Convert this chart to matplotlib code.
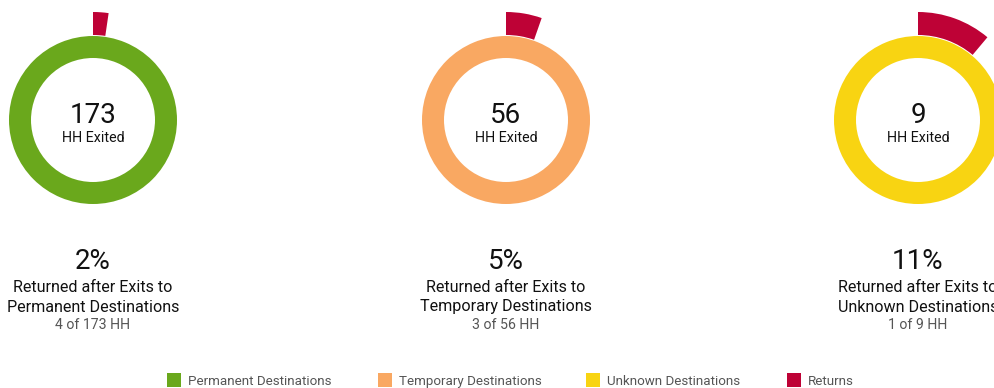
import matplotlib
matplotlib.use("Agg")
import matplotlib.pyplot as plt
from matplotlib.patches import Rectangle

plt.rcParams['font.family'] = ['Roboto', 'DejaVu Sans']

categories = ["Permanent", "Temporary", "Unknown"]
exited = [173, 56, 9]
returned = [4, 3, 1]
pct_labels = ["2%", "5%", "11%"]
legend_labels = ["Permanent Destinations", "Temporary Destinations", "Unknown Destinations", "Returns"]
colors = ["#6AA81C", "#F9A862", "#F8D412"]
ret_color = "#BE0236"

W, H = 994, 388
DPI = 100
fig = plt.figure(figsize=(W / DPI, H / DPI), dpi=DPI)

centers_x = [93, 506, 918]
cy = 120
half = 120

def fx(x):
    return x / W

def fy(y):
    return 1 - y / H

for i, cat in enumerate(categories):
    cx = centers_x[i]
    ax = fig.add_axes([fx(cx - half), fy(cy + half), 2 * half / W, 2 * half / H])
    ax.set_xlim(-half, half)
    ax.set_ylim(-half, half)
    ax.set_aspect('equal')
    ax.axis('off')
    ax.pie([exited[i]], radius=84, colors=[colors[i]], startangle=90,
           counterclock=False, wedgeprops=dict(width=22, linewidth=0))
    ax.pie([returned[i], exited[i] - returned[i]], radius=108,
           colors=[ret_color, (1, 1, 1, 0)], startangle=90, counterclock=False,
           wedgeprops=dict(width=23, linewidth=0))
    ax.set_xlim(-half, half)
    ax.set_ylim(-half, half)

    fig.text(fx(cx), fy(115.5), str(exited[i]), ha='center', va='center',
             fontsize=20, color='#111111')
    fig.text(fx(cx), fy(137.5), "HH Exited", ha='center', va='center',
             fontsize=10.3, color='#111111')
    fig.text(fx(cx), fy(261.5), pct_labels[i], ha='center', va='center',
             fontsize=20, color='#111111')
    fig.text(fx(cx), fy(287), "Returned after Exits to", ha='center', va='center',
             fontsize=11.6, color='#111111')
    fig.text(fx(cx), fy(307), f"{cat} Destinations", ha='center', va='center',
             fontsize=11.6, color='#111111')
    fig.text(fx(cx), fy(325), f"{returned[i]} of {exited[i]} HH", ha='center', va='center',
             fontsize=10.2, color='#555555')

leg_x = [167, 378, 586, 787]
leg_colors = colors + [ret_color]
for x, lab, c in zip(leg_x, legend_labels, leg_colors):
    fig.patches.append(Rectangle((fx(x), fy(387)), 14 / W, 14 / H,
                                 transform=fig.transFigure, facecolor=c,
                                 edgecolor='none'))
    fig.text(fx(x + 21), fy(381.5), lab, ha='left', va='center',
             fontsize=9.6, color='#555555')

fig.savefig("out.png", dpi=DPI)
